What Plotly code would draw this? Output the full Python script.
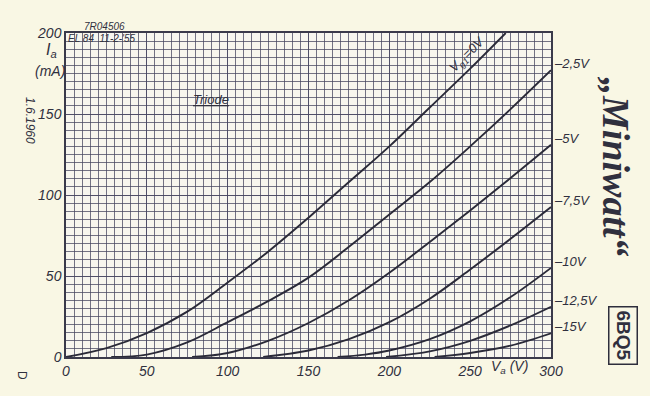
import plotly.graph_objects as go

# ---- data ----
va_g0 = [0, 25, 50, 75, 100, 125, 150, 175, 200, 225, 250, 272]
ia_g0 = [0, 5.5, 14.8, 28, 46, 65, 86, 108, 130, 154, 178, 200]

va_g25 = [28, 50, 75, 100, 125, 150, 175, 200, 225, 250, 275, 300]
ia_g25 = [0, 1.5, 9, 21.5, 34.5, 49, 68, 88, 108, 130, 153, 177]

va_g5 = [78, 100, 125, 150, 175, 200, 225, 250, 275, 300]
ia_g5 = [0, 2.5, 10, 21, 35, 52, 71, 90.5, 110.5, 131]

va_g75 = [122, 150, 175, 200, 225, 250, 275, 300]
ia_g75 = [0, 4, 11, 21.5, 36, 54, 73, 92.6]

va_g10 = [168, 185, 200, 225, 250, 275, 300]
ia_g10 = [0, 1.5, 4, 11, 22, 37, 55]

va_g125 = [198, 225, 250, 275, 300]
ia_g125 = [0, 3.5, 10, 19.5, 31]

va_g15 = [228, 250, 275, 300]
ia_g15 = [0, 2.5, 7, 14.6]

curve_labels = ["–2,5V", "–5V", "–7,5V", "–10V", "–12,5V", "–15V"]
label_ia = [177, 131, 92.6, 55, 31, 14.6]

x_ticks = [0, 50, 100, 150, 200, 250, 300]
y_ticks = [0, 50, 100, 150, 200]

INK = "#2a2a38"
TXT = "#30303e"
PAPER = "#f9f7e4"

fig = go.Figure()
for vx, iy in [(va_g0, ia_g0), (va_g25, ia_g25), (va_g5, ia_g5), (va_g75, ia_g75),
               (va_g10, ia_g10), (va_g125, ia_g125), (va_g15, ia_g15)]:
    fig.add_trace(go.Scatter(x=vx, y=iy, mode="lines",
                             line=dict(color=INK, width=1.9, shape="spline", smoothing=1.0),
                             showlegend=False, hoverinfo="skip"))

# page offset of the figure (browser body margin)
OFF = 8
# plot area in page pixels
X0, X1, Y0, Y1 = 66, 551, 33, 357
W, H = 650 - OFF, 396 - OFF
L, T = X0 - OFF, Y0 - OFF
R, B = 650 - X1, 396 - Y1
PW, PH = X1 - X0, Y1 - Y0


def px(xp):
    return (xp - X0) / PW


def py(yp):
    return (Y1 - yp) / PH


grid = "rgba(70,70,95,0.75)"
fig.update_layout(
    width=W, height=H,
    margin=dict(l=L, r=R, t=T, b=B, pad=0),
    paper_bgcolor=PAPER,
    plot_bgcolor="#f7f6ee",
    showlegend=False,
    font=dict(family="Liberation Sans", color=TXT),
)
fig.update_xaxes(
    range=[0, 300], tickvals=x_ticks, ticktext=[str(v) for v in x_ticks],
    showgrid=True, gridcolor=grid, gridwidth=1,
    minor=dict(dtick=5, showgrid=True, gridcolor=grid, gridwidth=0.8),
    showline=True, linecolor="#3a3a4a", linewidth=1.5, mirror=True,
    ticks="", zeroline=False,
    tickfont=dict(size=14, style="italic", color=TXT, family="Liberation Sans"),
)
fig.update_yaxes(
    range=[0, 200], tickvals=y_ticks, ticktext=[str(v) for v in y_ticks],
    showgrid=True, gridcolor=grid, gridwidth=1,
    minor=dict(dtick=5, showgrid=True, gridcolor=grid, gridwidth=0.8),
    showline=True, linecolor="#3a3a4a", linewidth=1.5, mirror=True,
    ticks="", zeroline=False,
    tickfont=dict(size=14, style="italic", color=TXT, family="Liberation Sans"),
)

ann = []


def txt(text, x, y, size=13, angle=0, xanchor="center", style="italic", weight="normal",
        family="Liberation Sans", **kw):
    ann.append(dict(text=text, x=px(x), y=py(y), xref="paper", yref="paper",
                    showarrow=False, textangle=angle, xanchor=xanchor, yanchor="middle",
                    font=dict(size=size, style=style, weight=weight, family=family, color=TXT),
                    **kw))


txt("I<sub>a</sub>", 51, 50, size=16)
txt("(mA)", 50, 71, size=14)
txt("V<sub>a</sub> (V)", 509, 367, size=14)
txt("7R04506", 104, 27, size=10)
txt("EL 84\u00a0\u00a011-2-'55", 102, 39, size=10)
txt("<u>Triode</u>", 211, 99, size=13)
txt("V<sub>g1</sub>=0V", 468, 55, size=13, angle=-45)
txt("1.6.1960", 30, 120, size=12, angle=90)
txt("D", 22, 375, size=12, angle=90, style="normal")

# curve labels at the right edge
for lab, iv in zip(curve_labels, label_ia):
    ann.append(dict(text=lab, x=300, y=iv + 4, xref="x", yref="y", showarrow=False,
                    xanchor="left", yanchor="middle", xshift=1,
                    font=dict(size=13, style="italic", family="Liberation Sans", color=TXT)))

txt("„Miniwatt“", 616, 167, size=38, angle=90, style="italic", weight="bold",
    family="Liberation Serif")
txt("6BQ5", 623, 335, size=19, angle=90, style="normal", weight="bold",
    bordercolor="#2e2e3c", borderwidth=1.5, borderpad=3)

fig.update_layout(annotations=ann)
fig.write_html("out.html",
               post_script="document.body.style.background='%s';" % PAPER)
